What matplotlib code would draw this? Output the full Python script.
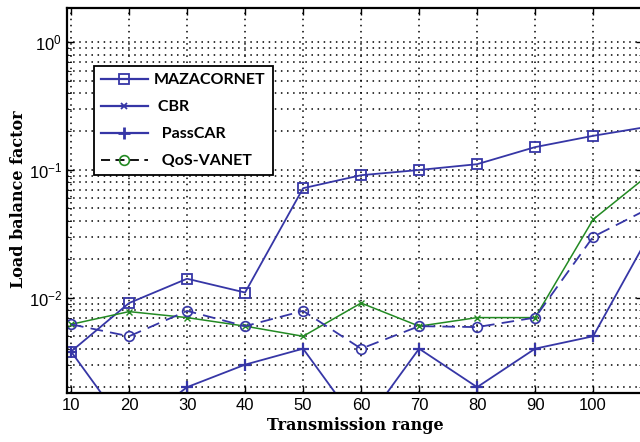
import numpy as np
import matplotlib.pyplot as plt
from matplotlib.lines import Line2D

plt.rcParams['mathtext.fontset'] = 'custom'
plt.rcParams['mathtext.rm'] = 'Liberation Sans'
plt.rcParams['font.family'] = 'Liberation Sans'

x = [10, 20, 30, 40, 50, 60, 70, 80, 90, 100, 110]
mazacornet = [3.8e-3, 9.1e-3, 1.41e-2, 1.1e-2, 7.2e-2, 9.1e-2, 1.0e-1, 1.11e-1, 1.51e-1, 1.85e-1, 2.2e-1]
cbr = [6.2e-3, 7.8e-3, 7.0e-3, 6.0e-3, 5.0e-3, 9.1e-3, 6.0e-3, 7.0e-3, 7.0e-3, 4.1e-2, 9.5e-2]
passcar = [3.8e-3, 9e-4, 2.0e-3, 3.0e-3, 4.0e-3, 9.5e-4, 4.0e-3, 2.0e-3, 4.0e-3, 5.0e-3, 3.3e-2]
qos_vanet = [6.2e-3, 5.0e-3, 7.9e-3, 6.0e-3, 7.9e-3, 4.0e-3, 6.0e-3, 5.9e-3, 7.0e-3, 3.0e-2, 5.1e-2]
xticks = [10, 20, 30, 40, 50, 60, 70, 80, 90, 100]

blue = '#3636a6'
green = '#238a23'

fig = plt.figure(figsize=(6.4, 4.42), dpi=100)
ax = fig.add_axes([67/640, 49/442, 576/640, 385/442])

ax.semilogy(x, mazacornet, '-s', color=blue, lw=1.3, ms=7, mfc='none', mew=1.3)
ax.semilogy(x, cbr, '-x', color=green, lw=1.1, ms=5, mew=1.0)
ax.semilogy(x, passcar, '-+', color=blue, lw=1.3, ms=9, mew=1.6)
ax.semilogy(x, qos_vanet, '--o', color=blue, lw=1.3, ms=7, mfc='none', mew=1.2, dashes=(7, 4))

ax.set_xlim(9.3, 108.6)
ax.set_ylim(1.8e-3, 1.85)
ax.set_xticks(xticks)
ax.grid(True, which='major', color='black', ls=(0, (1, 3)), lw=1.1)
ax.grid(True, which='minor', axis='y', color='black', ls=(0, (1, 3)), lw=1.1)
ax.tick_params(which='both', direction='in', top=True, right=True, labelsize=12)
ax.tick_params(which='major', length=5, width=1)
ax.tick_params(which='minor', length=3)
for s in ax.spines.values():
    s.set_linewidth(1.6)

ax.set_xlabel('Transmission range', family='DejaVu Serif', fontweight='bold', fontsize=11.5, labelpad=3)
fig.text(19/640, 1 - 199/442, 'Load balance factor', family='DejaVu Serif', fontweight='bold',
         fontsize=11.5, rotation=90, ha='center', va='center')

handles = [
    Line2D([], [], color=blue, marker='s', ms=7, mfc='none', mew=1.3, lw=1.6),
    Line2D([], [], color=blue, marker='x', ms=5, mew=1.3, lw=1.6),
    Line2D([], [], color=blue, marker='+', ms=9, mew=2, lw=1.6),
    Line2D([], [], color='black', ls='--', dashes=(5, 3), marker='o', ms=7, mfc='none', mec=green, mew=1.2, lw=1.3),
]
labels = ['MAZACORNET', ' CBR', '  PassCAR', '  QoS-VANET']
leg = fig.legend(handles, labels, loc='upper left', bbox_to_anchor=(94/640, 1 - 66/442),
                 prop={'family': 'Lato', 'weight': 'bold', 'size': 11.5},
                 handlelength=2.9, handletextpad=0.4, labelspacing=0.8,
                 borderpad=0.45, borderaxespad=0, fancybox=False, edgecolor='black', framealpha=1)
leg.get_frame().set_linewidth(1.3)

fig.savefig('out.png', dpi=100)
